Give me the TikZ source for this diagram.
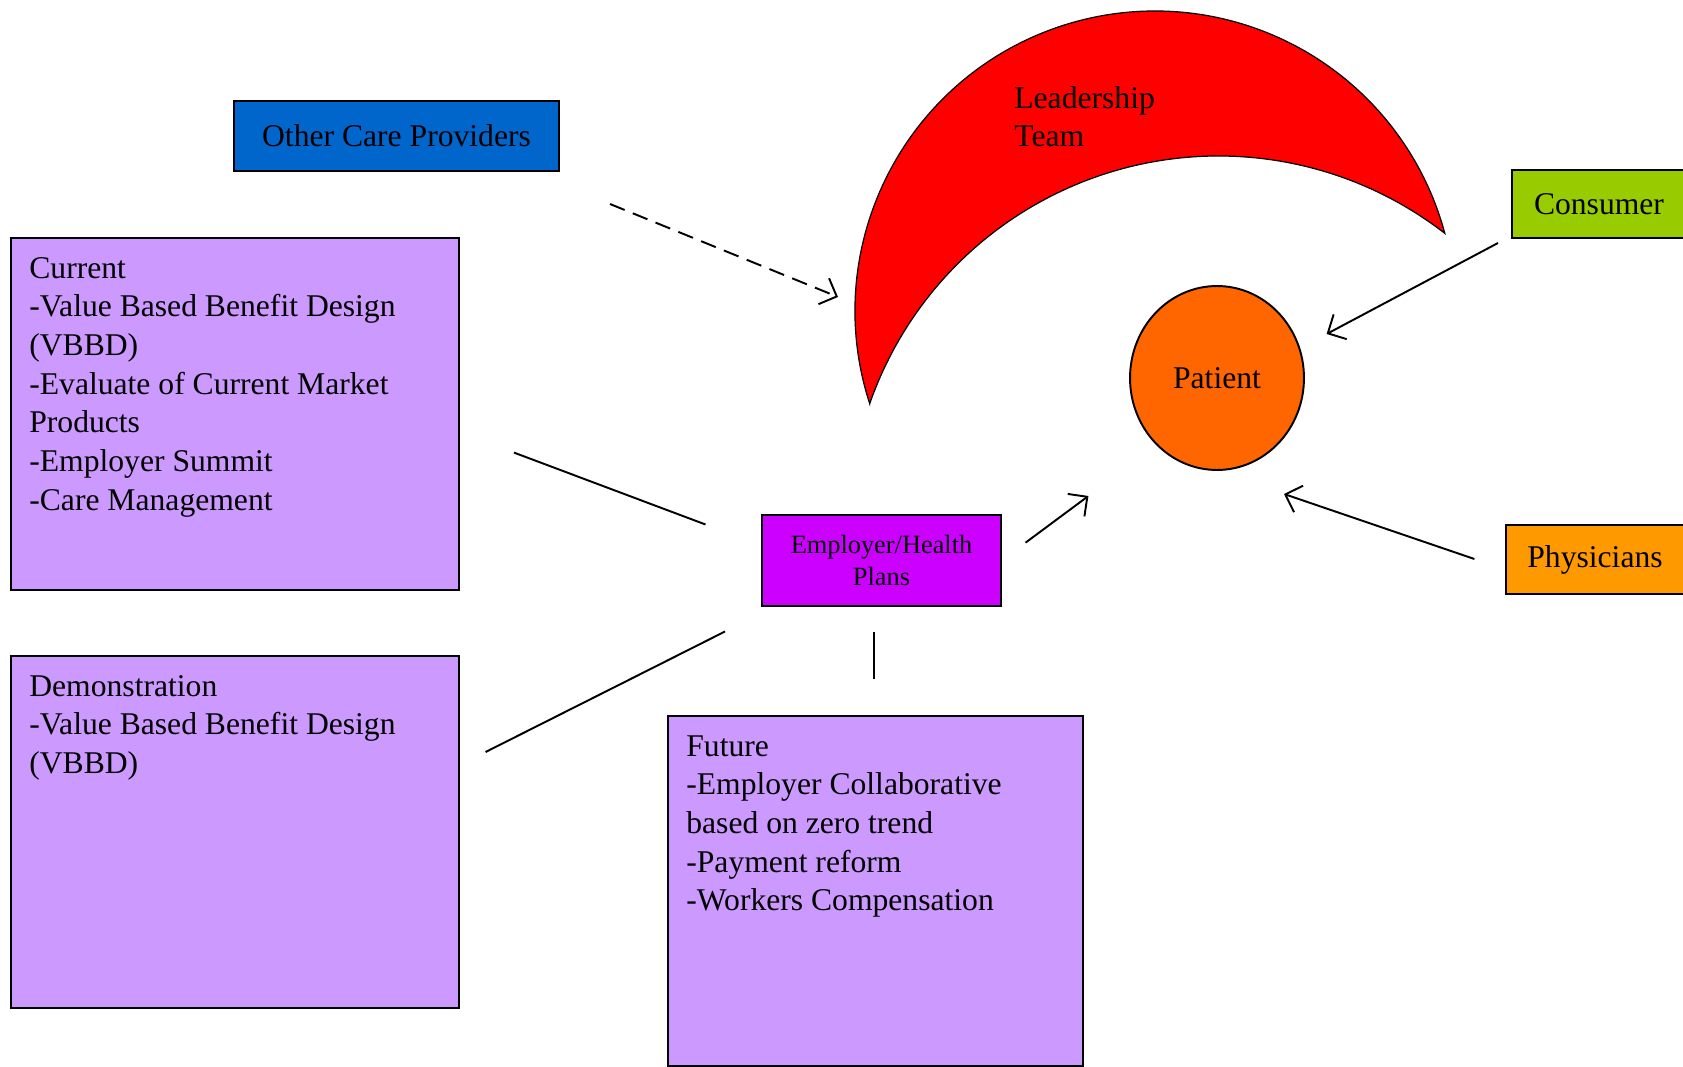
\documentclass[tikz,border=0pt]{standalone}
\usepackage{fontspec}
\setmainfont{Liberation Serif}
\usetikzlibrary{arrows.meta,positioning,shapes.geometric,calc}
\definecolor{ocpBlue}{HTML}{0066CC}
\definecolor{lilac}{HTML}{CC99FF}
\definecolor{empPurple}{HTML}{CC00FF}
\definecolor{patOrange}{HTML}{FF6600}
\definecolor{consGreen}{HTML}{99CC00}
\definecolor{physOrange}{HTML}{FF9900}
\definecolor{leadRed}{HTML}{FF0000}
\tikzset{
  box/.style={rectangle, draw=black, line width=1.1pt, align=center, inner sep=0pt, font=\fontsize{18}{22}\selectfont},
  listbox/.style={rectangle, draw=black, line width=1.1pt, fill=lilac, anchor=north west, inner sep=0pt},
  listtext/.style={anchor=north west, align=left, inner sep=0pt, font=\fontsize{18}{22}\selectfont},
  arrow/.style={-{Straight Barb[length=2.8mm,width=5.6mm]}, line width=1.1pt},
  dasharrow/.style={arrow, dash pattern=on 9pt off 5pt},
  link/.style={line width=1.1pt}
}

\begin{document}
\begin{tikzpicture}[x=0.02cm, y=-0.02cm]
  \useasboundingbox (0,0) rectangle (1683,1067);
  % leadership crescent
  \filldraw[fill=leadRed, draw=black, line width=0.7pt, line join=miter] (869.7,403.7)
    arc[start angle=162, end angle=345, radius=300]
    arc[start angle=307.76, end angle=199.25, radius=369.5] -- cycle;
  \node[listtext] (lead) at (1014,86) {Leadership\\Team};

  \node[box, fill=ocpBlue, minimum width=6.5cm, minimum height=1.4cm] (ocp) at (396.5,136) {Other Care Providers};
  \node[listbox, minimum width=8.96cm, minimum height=7.04cm] (cur) at (10,237) {};
  \node[listtext] (curtxt) at ([shift={(19,20)}]cur.north west) {Current\\-Value Based Benefit Design\\(VBBD)\\-Evaluate of Current Market\\Products\\-Employer Summit\\-Care Management};
  \node[listbox, minimum width=8.96cm, minimum height=7.04cm] (demo) at (10,655) {};
  \node[listtext] (demotxt) at ([shift={(19,20)}]demo.north west) {Demonstration\\-Value Based Benefit Design\\(VBBD)};
  \node[listbox, minimum width=8.3cm, minimum height=7cm] (fut) at (667,715) {};
  \node[listtext] (futtxt) at ([shift={(19,20)}]fut.north west) {Future\\-Employer Collaborative\\based on zero trend\\-Payment reform\\-Workers Compensation};

  \node[box, fill=empPurple, minimum width=4.78cm, minimum height=1.82cm, font=\fontsize{15}{18}\selectfont] (emp) at (881.5,560.5) {Employer/Health\\Plans};
  \node[ellipse, draw=black, line width=1.1pt, fill=patOrange, inner sep=0pt, minimum width=3.48cm, minimum height=3.68cm, font=\fontsize{18}{22}\selectfont] (pat) at (1217,378) {Patient};
  \node[box, fill=consGreen, minimum width=3.48cm, minimum height=1.36cm] (cons) at (1599,204) {Consumer};
  \node[box, fill=physOrange, minimum width=3.56cm, minimum height=1.38cm] (phys) at (1595,559.5) {Physicians};

  % free ends of the connectors
  \coordinate (ocp-out) at (610,204);
  \coordinate (lead-in) at (838,297);
  \coordinate (cons-out) at (1498,243);
  \coordinate (pat-ne) at (1326.6,334);
  \coordinate (phys-out) at (1474.4,559);
  \coordinate (pat-se) at (1284,494);
  \coordinate (emp-out) at (1025.5,542.7);
  \coordinate (pat-sw) at (1088.4,496);
  \coordinate (cur-out) at (514,452.6);
  \coordinate (emp-w) at (705.5,524.5);
  \coordinate (demo-out) at (485.6,752);
  \coordinate (emp-sw) at (725,631.5);
  \coordinate (emp-s) at (873.7,631.5);
  \coordinate (fut-in) at (873.7,679);

  \draw[dasharrow] (ocp-out) -- (lead-in);
  \draw[arrow] (cons-out) -- (pat-ne);
  \draw[arrow] (phys-out) -- (pat-se);
  \draw[arrow] (emp-out) -- (pat-sw);
  \draw[link] (cur-out) -- (emp-w);
  \draw[link] (demo-out) -- (emp-sw);
  \draw[link] (emp-s) -- (fut-in);
\end{tikzpicture}
\end{document}
